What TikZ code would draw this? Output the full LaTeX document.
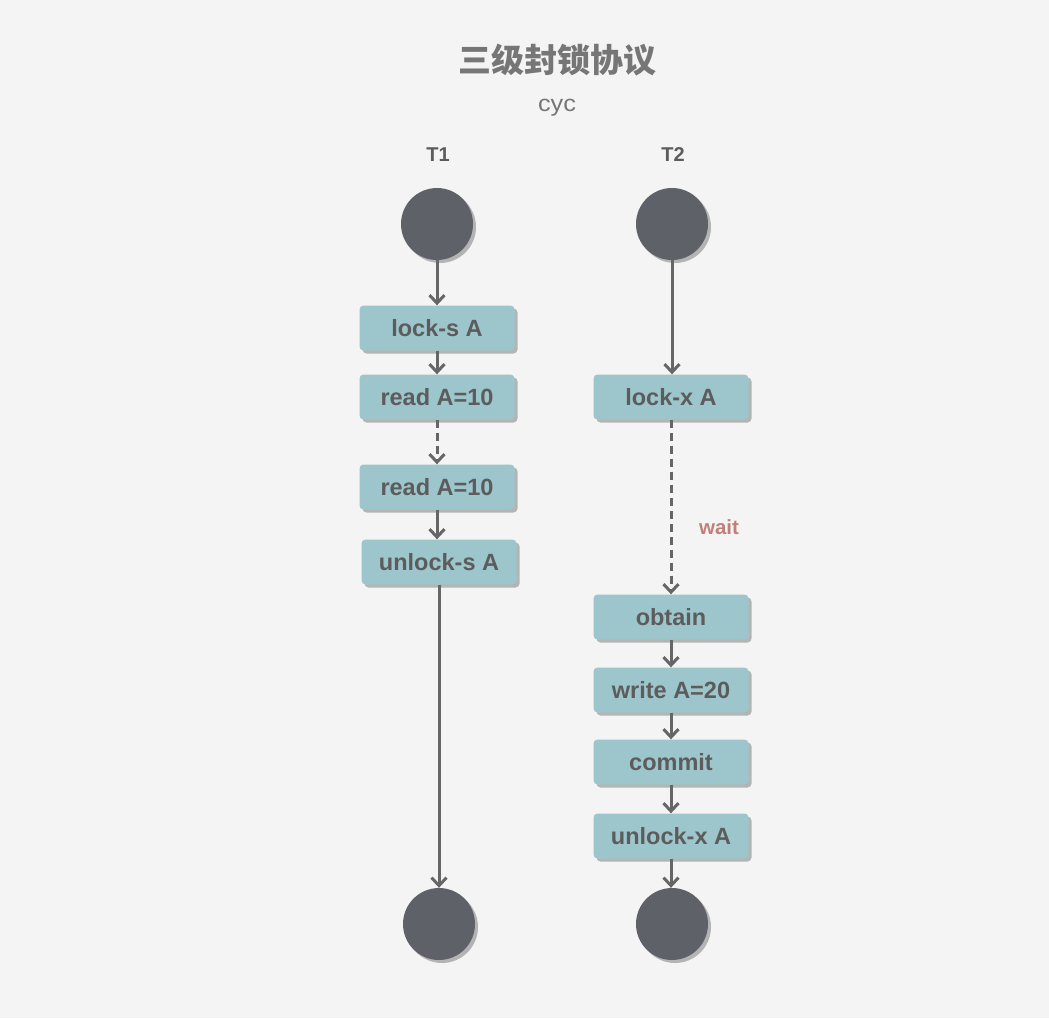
\documentclass[tikz,border=0pt]{standalone}
\usepackage{fontspec}
\setmainfont{Liberation Sans}
\newfontfamily\cjk{Noto Sans CJK SC}
\usetikzlibrary{arrows.meta,shadows}
\definecolor{bgc}{HTML}{F4F4F4}
\definecolor{boxc}{HTML}{9DC5CC}
\definecolor{txtc}{HTML}{5C5C5C}
\definecolor{circc}{HTML}{5F6169}
\definecolor{linec}{HTML}{666666}
\definecolor{shadc}{HTML}{B4B4B4}
\definecolor{titc}{HTML}{767676}
\definecolor{waitc}{HTML}{C0807A}
\tikzset{
  stepbox/.style={rectangle, rounded corners=4pt, fill=boxc, minimum width=155pt, minimum height=45pt, inner sep=0pt,
    text=txtc, font=\fontsize{23.5}{25}\selectfont\bfseries,
    drop shadow={shadow xshift=3pt, shadow yshift=-3pt, fill=shadc, opacity=1}},
  endpt/.style={circle, fill=circc, minimum size=72pt, inner sep=0pt,
    drop shadow={shadow xshift=3pt, shadow yshift=-3pt, fill=shadc, opacity=1}},
  flow/.style={draw=linec, line width=3pt, -{Straight Barb[length=8pt,width=15pt]}},
  waitflow/.style={flow, dash pattern=on 8pt off 5pt},
  lanehead/.style={text=txtc, font=\fontsize{20}{22}\selectfont\bfseries},
}
\begin{document}
\begin{tikzpicture}[x=1pt,y=-1pt]
\fill[bgc] (0,0) rectangle (1049,1018);
\useasboundingbox (0,0) rectangle (1049,1018);
\node[text=titc, font=\cjk\fontsize{33}{35}\selectfont\bfseries] (title) at (557,60) {三级封锁协议};
\node[text=titc, font=\fontsize{23}{25}\selectfont, xscale=1.1] (sub) at (557,108) {cyc};
\node[lanehead] (t1) at (438,155) {T1};
\node[lanehead] (t2) at (673,155) {T2};
\node[endpt] (s1) at (437,224) {};
\node[endpt] (s2) at (672,224) {};
\node[stepbox] (lockS) at (437,328) {lock-s A};
\node[stepbox] (read1) at (437,397) {read A=10};
\node[stepbox] (read2) at (437,487) {read A=10};
\node[stepbox] (unlockS) at (439,562) {unlock-s A};
\node[endpt] (e1) at (439,924) {};
\node[stepbox] (lockX) at (671,397) {lock-x A};
\node[stepbox] (obtain) at (671,617) {obtain};
\node[stepbox] (write) at (671,690) {write A=20};
\node[stepbox] (commit) at (671,762) {commit};
\node[stepbox] (unlockX) at (671,836) {unlock-x A};
\node[endpt] (e2) at (672,924) {};
\node[text=waitc, font=\fontsize{20.5}{22}\selectfont\bfseries] (waitlbl) at (719,527) {wait};
\draw[flow] (s1.south) -- (lockS.north);
\draw[flow] (lockS) -- (read1);
\draw[waitflow] (read1) -- (read2);
\draw[flow] (read2) -- (read2 |- unlockS.north);
\draw[flow] (unlockS) -- (e1);
\draw[flow] (s2.south) -- (s2 |- lockX.north);
\draw[waitflow] (lockX) -- (obtain);
\draw[flow] (obtain) -- (write);
\draw[flow] (write) -- (commit);
\draw[flow] (commit) -- (unlockX);
\draw[flow] (unlockX) -- (unlockX |- e2.north);
\end{tikzpicture}
\end{document}
